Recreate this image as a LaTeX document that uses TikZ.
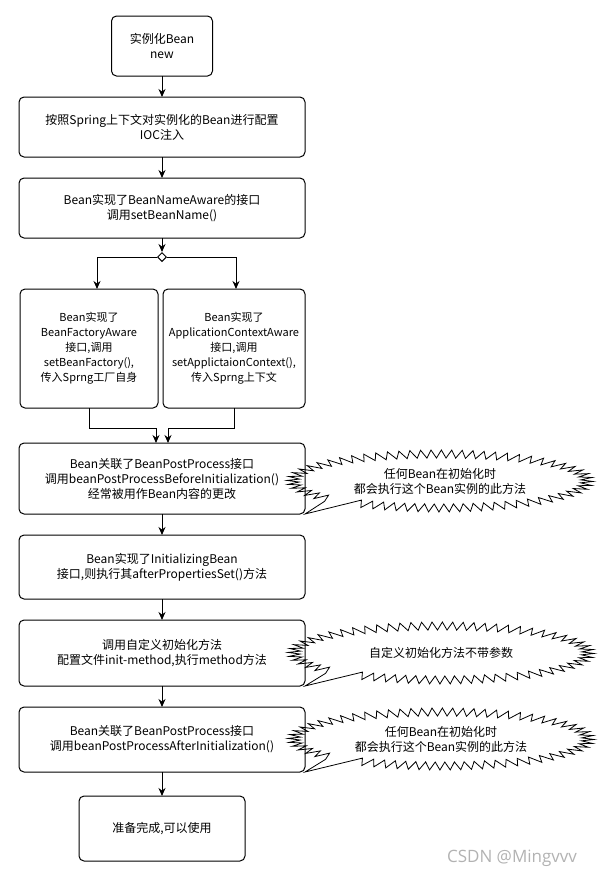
\documentclass[tikz,border=0pt]{standalone}
\usepackage{fontspec}
\setmainfont{Noto Sans CJK SC}
\newfontfamily\markfont{Open Sans}
\usetikzlibrary{positioning}
\usetikzlibrary{arrows.meta}
\usetikzlibrary{shapes.geometric}

\tikzset{
  stepbox/.style={rectangle, draw, rounded corners=5pt, line width=1pt, outer sep=0pt, align=center, inner sep=0pt, font=\fontsize{12}{15}\selectfont},
  flow/.style={-{Stealth[length=8pt,width=7pt]}, line width=1pt},
  notetext/.style={align=center, font=\fontsize{12}{15}\selectfont},
}

% jagged callout round a note, tail to a corner
\newcommand{\burst}[2]{%
  \begin{scope}[shift={(#1.center)}]
    \draw[line width=0.8pt, line join=miter] (#2) -- plot[variable=\i, samples at={0,...,123}]
      ({(147+6*(1-2*mod(\i,2)))*cos(212.9-2.81*\i+8.9*sin(425.8-5.62*\i))},
       {(27+4*(1-2*mod(\i,2)))*sin(212.9-2.81*\i+8.9*sin(425.8-5.62*\i))}) -- cycle;
  \end{scope}}

\begin{document}
\begin{tikzpicture}[x=1pt, y=1pt]

    \useasboundingbox (0,0) rectangle (603,-879);

    % Main column
    \node[stepbox, minimum width=101pt, minimum height=60pt] (box1) at (162,-46) {实例化Bean\\new};
    \node[stepbox, minimum width=286pt, minimum height=60pt, below=21pt of box1] (box2) {按照Spring上下文对实例化的Bean进行配置\\IOC注入};
    \node[stepbox, minimum width=286pt, minimum height=60pt, below=21pt of box2] (box3) {Bean实现了BeanNameAware的接口\\调用setBeanName()};

    % Split
    \node[diamond, draw, line width=1pt, inner sep=0pt, minimum size=9pt, below=14pt of box3] (split) {};
    \node[stepbox, font=\fontsize{11}{15}\selectfont, minimum width=138pt, minimum height=119pt, below right=51pt and 1pt of box3.south west] (box4) {Bean实现了\\BeanFactoryAware\\接口,调用\\setBeanFactory(),\\传入Sprng工厂自身};
    \node[stepbox, font=\fontsize{11}{15}\selectfont, minimum width=142pt, minimum height=119pt, right=5pt of box4] (box5) {Bean实现了\\ApplicationContextAware\\接口,调用\\setApplictaionContext(),\\传入Sprng上下文};
    \coordinate (join) at (box3.south |- box4.south);

    \node[stepbox, minimum width=286pt, minimum height=71pt, below=35pt of join] (box6) {Bean关联了BeanPostProcess接口\\调用beanPostProcessBeforeInitialization()\\经常被用作Bean内容的更改};
    \node[stepbox, minimum width=286pt, minimum height=64pt, below=21pt of box6] (box7) {Bean实现了InitializingBean\\接口,则执行其afterPropertiesSet()方法};
    \node[stepbox, minimum width=286pt, minimum height=66pt, below=21pt of box7] (box8) {调用自定义初始化方法\\配置文件init-method,执行method方法};
    \node[stepbox, minimum width=286pt, minimum height=65pt, below=21pt of box8] (box9) {Bean关联了BeanPostProcess接口\\调用beanPostProcessAfterInitialization()};
    \node[stepbox, minimum width=166pt, minimum height=65pt, below=24pt of box9] (box10) {准备完成,可以使用};

    % Arrows
    \draw[flow] (box1) -- (box2);
    \draw[flow] (box2) -- (box3);
    \draw[flow] (box3) -- (split);
    \draw[flow] (split.west) -| ([xshift=8pt]box4.north);
    \draw[flow] (split.east) -| ([xshift=2pt]box5.north);
    \draw[flow] (box4.south) -- ++(0,-20) -| ([xshift=-6pt]box6.north);
    \draw[flow] (box5.south) -- ++(0,-20) -| ([xshift=6pt]box6.north);
    \draw[flow] (box6) -- (box7);
    \draw[flow] (box7) -- (box8);
    \draw[flow] (box8) -- (box9);
    \draw[flow] (box9) -- (box10);

    % Notes
    \node[notetext] (note1) at (440,-481) {任何Bean在初始化时\\都会执行这个Bean实例的此方法};
    \node[notetext] (note2) at (441,-653) {自定义初始化方法不带参数};
    \node[notetext] (note3) at (441,-739) {任何Bean在初始化时\\都会执行这个Bean实例的此方法};
    \burst{note1}{box6.south east}
    \burst{note2}{box8.south east}
    \burst{note3}{box9.south east}

    \node[text=gray!60, font=\markfont\fontsize{17}{20}\selectfont] (mark) at (512,-858) {CSDN @Mingvvv};

\end{tikzpicture}
\end{document}
